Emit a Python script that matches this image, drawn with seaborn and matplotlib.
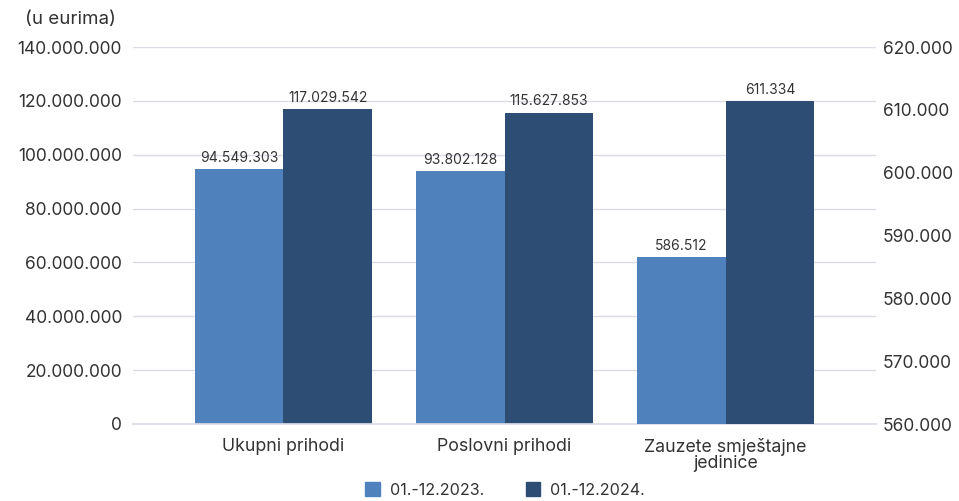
import matplotlib
matplotlib.use("Agg")
import matplotlib.pyplot as plt
import seaborn as sns
import pandas as pd
from matplotlib.ticker import FuncFormatter, FixedLocator
from matplotlib.patches import Patch

categories = ["Ukupni prihodi", "Poslovni prihodi", "Zauzete smještajne\njedinice"]
series = ["01.-12.2023.", "01.-12.2024."]
values_2023 = [94549303, 93802128, 586512]
values_2024 = [117029542, 115627853, 611334]
axis_side = ["left", "left", "right"]
left_ticks = [0, 20000000, 40000000, 60000000, 80000000, 100000000, 120000000, 140000000]
right_ticks = [560000, 570000, 580000, 590000, 600000, 610000, 620000]
colors = ["#4F81BD", "#2E4D75"]

sns.set_theme(style="white")
plt.rcParams["font.family"] = ["Inter", "DejaVu Sans"]

rows = []
for c, v1, v2, side in zip(categories, values_2023, values_2024, axis_side):
    rows.append({"cat": c, "series": series[0], "value": v1, "side": side})
    rows.append({"cat": c, "series": series[1], "value": v2, "side": side})
df = pd.DataFrame(rows)

def fmt(v, pos=None):
    return f"{v:,.0f}".replace(",", ".")

fig = plt.figure(figsize=(9.59, 5.01), dpi=100)
ax = fig.add_axes([133/959, 1-424/501, (876-133)/959, (424-47)/501])
ax2 = ax.twinx()

grid_c = "#DCDCE6"
for y in left_ticks:
    ax.axhline(y, color=grid_c, lw=1, zorder=0)

sns.barplot(data=df[df.side == "left"], x="cat", y="value", hue="series",
            order=categories, hue_order=series, palette=colors, ax=ax,
            saturation=1, width=0.8, legend=False, zorder=2, linewidth=0)
sns.barplot(data=df[df.side == "right"], x="cat", y="value", hue="series",
            order=categories, hue_order=series, palette=colors, ax=ax2,
            saturation=1, width=0.8, legend=False, zorder=2, linewidth=0)

ax.set_ylim(0, 140000000)
ax2.set_ylim(560000, 620000)
ax.set_xlim(-0.68, 2.68)
ax.yaxis.set_major_locator(FixedLocator(left_ticks))
ax2.yaxis.set_major_locator(FixedLocator(right_ticks))
ax.yaxis.set_major_formatter(FuncFormatter(fmt))
ax2.yaxis.set_major_formatter(FuncFormatter(fmt))

txt_c = "#333333"
ax.tick_params(axis="y", labelsize=12.5, colors=txt_c, length=0, pad=8)
ax2.tick_params(axis="y", labelsize=12.5, colors=txt_c, length=0, pad=5)
ax.tick_params(axis="x", labelsize=12.8, colors=txt_c, length=0, pad=10)
for lbl in ax.get_xticklabels():
    lbl.set_linespacing(0.95)
ax.set_xlabel("")
ax.set_ylabel("")
ax2.set_ylabel("")
for a in (ax, ax2):
    for s in a.spines.values():
        s.set_visible(False)
ax.spines["bottom"].set_visible(True)
ax.spines["bottom"].set_color(grid_c)

for a in (ax, ax2):
    for cont in a.containers:
        labels = [fmt(b.get_height()) if b.get_height() == b.get_height() and b.get_height() > 0 else "" for b in cont]
        a.bar_label(cont, labels=labels, padding=3, fontsize=10, color=txt_c)

fig.text(25/959, 1-20/501, "(u eurima)", fontsize=13.5, color=txt_c, va="center", ha="left")

handles = [Patch(color=colors[0], label=series[0]), Patch(color=colors[1], label=series[1])]
fig.legend(handles=handles, loc="center", bbox_to_anchor=(505/959, 1-490/501), ncol=2,
           frameon=False, fontsize=11.6, handlelength=0.9, handleheight=0.9,
           columnspacing=2.6, handletextpad=0.6, labelcolor=txt_c)

fig.savefig("out.png", dpi=100)
